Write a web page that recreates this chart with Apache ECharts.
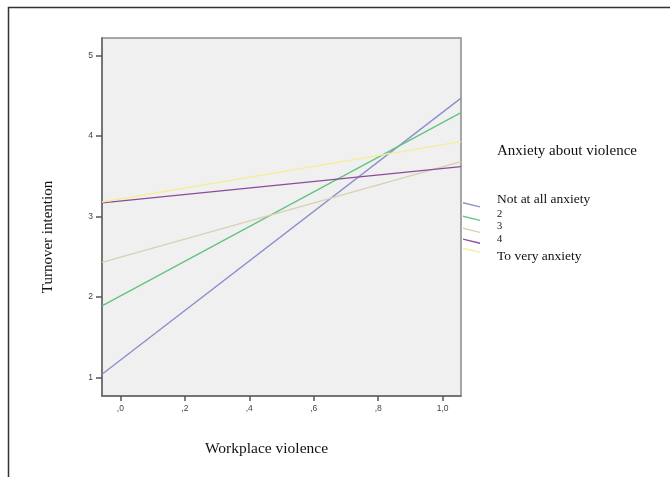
<!DOCTYPE html>
<html>
<head>
<meta charset="utf-8">
<script src="https://cdn.jsdelivr.net/npm/echarts@6/dist/echarts.min.js"></script>
<style>
html,body{margin:0;padding:0;background:#fff;}
#chart{width:670px;height:477px;}
</style>
</head>
<body>
<div id="chart"></div>
<script>
// ---- data ----
var seriesNames = ['Not at all anxiety', '2', '3', '4', 'To very anxiety'];
var xEdges = [-0.057, 1.057];           // line end points (plot edges)
var notAtAll = [1.04, 4.47];
var level2 = [1.89, 4.29];
var level3 = [2.43, 3.68];
var level4 = [3.17, 3.62];
var veryAnxiety = [3.18, 3.93];
var xTickValues = [0, 0.2, 0.4, 0.6, 0.8, 1.0];
var xTickLabels = [',0', ',2', ',4', ',6', ',8', '1,0'];
var yTickValues = [1, 2, 3, 4, 5];
var yTickLabels = ['1', '2', '3', '4', '5'];
var colors = ['#8a8dcc', '#62c280', '#d8d0b2', '#8a4c97', '#f3ee9c'];

var allValues = [notAtAll, level2, level3, level4, veryAnxiety];

var chart = echarts.init(document.getElementById('chart'));
var serif = '"Liberation Serif","DejaVu Serif",serif';

// legend icon: a short slanted stroke placed inside a taller box so the
// label (centred on the box) sits above / below the stroke as in the original
function iconPath(lineTop, boxH) {
  var t = lineTop, b = lineTop + 5.6;
  var p = 'path://M0,' + t + 'L17,' + (t + 4.2) + 'L17,' + b + 'L0,' + (t + 1.4) + 'Z';
  // tiny anchor points to fix the icon box
  p += ' M0,0L0.01,0L0,0.01Z M16.99,' + boxH + 'L17,' + boxH + 'L17,' + (boxH - 0.01) + 'Z';
  return p;
}
var legendBoxTop = [190.4, 206.8, 219.4, 233.4, 247.5];
var legendLineRel = [11.6, 8.2, 7.6, 3.6, 0];
var legendBoxH = [17.2, 13.8, 13.2, 9.2, 17];
var legendSizes = [13.5, 10.5, 10.5, 10.5, 13.5];
var legendTopAdj = [0, 0.5, 0.5, 0.5, 0];
var legends = seriesNames.map(function (n, i) {
  return {
    data: [n],
    left: 463,
    top: legendBoxTop[i] + legendTopAdj[i],
    orient: 'vertical',
    padding: 0,
    icon: iconPath(legendLineRel[i], legendBoxH[i]),
    itemWidth: 17,
    itemHeight: legendBoxH[i],
    selectedMode: false,
    textStyle: {
      fontFamily: serif,
      fontSize: legendSizes[i],
      color: '#111',
      padding: [0, 0, 0, 12]
    }
  };
});

var series = seriesNames.map(function (n, i) {
  return {
    name: n,
    type: 'line',
    data: xEdges.map(function (x, k) { return [x, allValues[i][k]]; }),
    symbol: 'none',
    showSymbol: false,
    color: colors[i],
    lineStyle: { width: 1.3, color: colors[i] },
    itemStyle: { color: colors[i] },
    animation: false,
    z: 3
  };
});

chart.setOption({
  backgroundColor: '#fff',
  animation: false,
  title: {
    text: 'Anxiety about violence',
    left: 497,
    top: 143.5,
    padding: 0,
    textStyle: { fontFamily: serif, fontSize: 15, fontWeight: 'normal', color: '#111' }
  },
  legend: legends,
  grid: {
    left: 102, top: 38, width: 359, height: 358,
    show: true, backgroundColor: '#f0f0f0', borderColor: '#8a8a8a', borderWidth: 1.5
  },
  xAxis: {
    type: 'value',
    min: xEdges[0], max: xEdges[1],
    splitLine: { show: false },
    axisLine: { onZero: false, lineStyle: { color: '#666', width: 1.5 } },
    axisTick: { customValues: xTickValues, length: 5, lineStyle: { color: '#555', width: 1.5 } },
    axisLabel: {
      customValues: xTickValues,
      margin: 8,
      fontSize: 8.5,
      color: '#444',
      fontFamily: 'Arial, "Liberation Sans", sans-serif',
      formatter: function (v) {
        for (var i = 0; i < xTickValues.length; i++) {
          if (Math.abs(xTickValues[i] - v) < 1e-6) return xTickLabels[i];
        }
        return '';
      }
    }
  },
  yAxis: {
    type: 'value',
    min: 0.77, max: 5.217,
    splitLine: { show: false },
    axisLine: { show: true, onZero: false, lineStyle: { color: '#666', width: 1.5 } },
    axisTick: { show: true, customValues: yTickValues, length: 6, lineStyle: { color: '#555', width: 1.5 } },
    axisLabel: {
      customValues: yTickValues,
      margin: 9,
      fontSize: 8.5,
      color: '#444',
      fontFamily: 'Arial, "Liberation Sans", sans-serif',
      formatter: function (v) {
        for (var i = 0; i < yTickValues.length; i++) {
          if (Math.abs(yTickValues[i] - v) < 1e-6) return yTickLabels[i];
        }
        return '';
      }
    }
  },
  graphic: [
    {
      type: 'polyline',
      shape: { points: [[8.5, 477], [8.5, 7.5], [670, 7.5]] },
      style: { stroke: '#333', lineWidth: 1.5, fill: null },
      silent: true
    },
    {
      type: 'text',
      x: 48, y: 237,
      rotation: Math.PI / 2,
      style: {
        text: 'Turnover intention',
        font: '15px ' + serif,
        fill: '#111',
        align: 'center',
        verticalAlign: 'middle'
      }
    },
    {
      type: 'text',
      x: 266.5, y: 449,
      style: {
        text: 'Workplace violence',
        font: '15.5px ' + serif,
        fill: '#111',
        align: 'center',
        verticalAlign: 'middle'
      }
    }
  ],
  series: series
});
</script>
</body>
</html>
